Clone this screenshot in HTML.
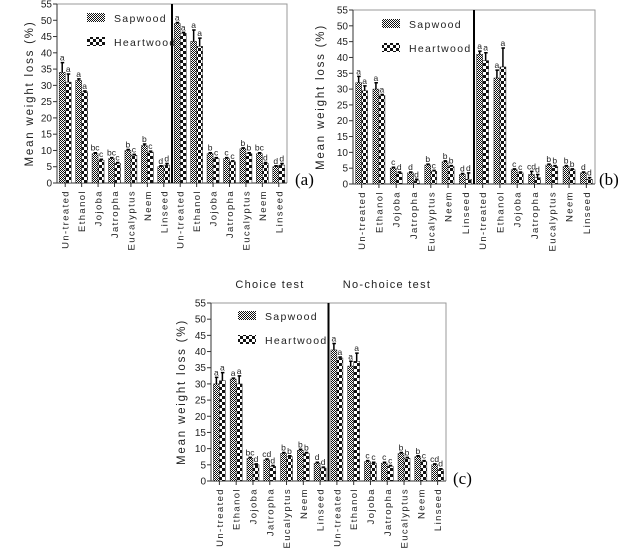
<!DOCTYPE html>
<html><head><meta charset="utf-8"><style>
html,body{margin:0;padding:0;background:#fff}
svg{display:block;font-family:"Liberation Sans",Arial,sans-serif}
</style></head><body>
<svg id="fig" width="624" height="548" viewBox="0 0 624 548" xmlns="http://www.w3.org/2000/svg">
<defs>
<pattern id="pSap" width="2" height="2" patternUnits="userSpaceOnUse"><rect width="2" height="2" fill="#fff"/><rect width="1" height="1" fill="#111"/><rect x="1" y="1" width="1" height="1" fill="#111"/></pattern>
<pattern id="pHeart" width="6" height="6" patternUnits="userSpaceOnUse"><rect width="6" height="6" fill="#fff"/><rect width="3" height="3" fill="#111"/><rect x="3" y="3" width="3" height="3" fill="#111"/></pattern>
</defs>
</svg>
<script>
const categories = ["Un-treated","Ethanol","Jojoba","Jatropha","Eucalyptus","Neem","Linseed","Un-treated","Ethanol","Jojoba","Jatropha","Eucalyptus","Neem","Linseed"];
const yTicks = [0,5,10,15,20,25,30,35,40,45,50,55];
// Panel (a)
const aSap = [34,31.5,9,7.5,10,11.5,5, 49,43.5,9,7.5,10.5,9,5];
const aHeart = [31,28,7,6,8.5,9.5,5.5, 46,42,7.5,6.5,9,6,5.5];
const aSapErr = [37,32,9.3,7.8,10.3,12,5.3, 49.3,47,9.3,7.8,10.8,9.3,5.3];
const aHeartErr = [33.5,28.3,7.3,6.3,8.8,9.8,6, 46.3,44.5,7.8,6.8,9.3,6.3,6];
const aSapLet = ["a","a","bc","bc","b","b","d","a","a","b","c","b","bc","d"];
const aHeartLet = ["a","a","c","c","c","c","d","a","a","c","c","b","d","d"];
// Panel (b)
const bSap = [32,30,5,3.5,6,7,3, 41,33.5,4.5,3,6,5.5,3.5];
const bHeart = [29.5,28,3.5,1,4,5.5,1.5, 39,37,3.5,2,5.5,4.5,1.5];
const bSapErr = [34,32,5.3,3.8,6.3,7.3,3.3, 42,36,4.8,4,6.3,5.8,3.8];
const bHeartErr = [31,28.3,3.8,1.5,4.3,5.8,3.5, 41.5,43,3.8,3,5.8,4.8,2];
const bSapLet = ["a","a","c","d","b","b","d","a","a","c","cd","b","b","d"];
const bHeartLet = ["a","a","d","d","c","b","d","a","a","c","d","b","b","d"];
// Panel (c)
const cSap = [30,31.5,7,6.5,8.5,9.5,5.5, 40.5,35.5,6,5.5,8.5,7.5,5];
const cHeart = [31,30,5,4.5,7.5,8.5,4, 38,37,5.5,4.5,7,6,3.5];
const cSapErr = [32,31.8,7.3,6.8,8.8,9.8,5.8, 42.5,37,6.3,5.8,8.8,7.8,5.3];
const cHeartErr = [33.5,32.5,5.3,4.8,7.8,8.8,4.3, 38.3,39.5,5.8,4.8,7.3,6.3,3.8];
const cSapLet = ["a","a","bc","cd","b","b","d","a","a","c","c","b","b","cd"];
const cHeartLet = ["a","a","d","d","b","b","d","a","a","c","c","b","c","d"];

const NS="http://www.w3.org/2000/svg";
const svg=document.getElementById('fig');
function mk(tag,attrs,parent,text){const e=document.createElementNS(NS,tag);for(const k in attrs)e.setAttribute(k,attrs[k]);if(text!==undefined)e.textContent=text;(parent||svg).appendChild(e);return e;}

function panel(id,cfg,sap,heart,sapErr,heartErr,sapLet,heartLet){
  const g=mk('g',{});
  
  
  const y=v=>cfg.y0-(v/55)*(cfg.y0-cfg.y55);
  const band=(cfg.x1-cfg.x0)/14;
  const cx=i=>cfg.x0+band*(i+0.5);
  const fr=mk('path',{d:`M${cfg.x0} ${cfg.y55}H${cfg.x1}V${cfg.y0}`,fill:'none',stroke:'#999','stroke-width':1},g);
  
  
  const ax=mk('path',{d:`M${cfg.x0} ${cfg.y55}V${cfg.y0}H${cfg.x1}`,fill:'none',stroke:'#333','stroke-width':1},g);
  
  
  const dx=cfg.x0+band*7;
  const dv=mk('line',{x1:dx,x2:dx,y1:cfg.y55,y2:cfg.y0,stroke:'#000','stroke-width':2},g);
  
  
  yTicks.forEach(t=>{
    const tk=mk('line',{x1:cfg.x0-4,x2:cfg.x0,y1:y(t),y2:y(t),stroke:'#333'},g);
    
    
    const tl=mk('text',{x:cfg.x0-5,y:y(t)+3.5,'text-anchor':'end','font-size':10,fill:'#222'},g,String(t));
    
    
  });
  const yl=mk('text',{x:0,y:0,transform:`translate(${cfg.ylx},${(cfg.y0+cfg.y55)/2}) rotate(-90)`,'text-anchor':'middle','font-size':11.5,'letter-spacing':'1.8',fill:'#222'},g,'Mean weight loss (%)');
  
  
  categories.forEach((c,i)=>{
    const x=cx(i);
    const tk=mk('line',{x1:x,x2:x,y1:cfg.y0,y2:cfg.y0+4,stroke:'#333'},g);
    
    
    const tl=mk('text',{x:0,y:0,transform:`translate(${x+3.5},${cfg.y0+7}) rotate(-90)`,'text-anchor':'end','font-size':9.5,'letter-spacing':'1.4',fill:'#222'},g,c);
    
    
    const bw=6;
    [[sap[i],sapErr[i],sapLet[i],'pSap',x-bw,'sapwood'],[heart[i],heartErr[i],heartLet[i],'pHeart',x,'heartwood']].forEach(([v,e,l,p,bx,nm])=>{
      const r=mk('rect',{x:bx,y:y(v),width:bw,height:y(0)-y(v),fill:`url(#${p})`,stroke:'#222','stroke-width':0.5},g);
      
      
      const el=mk('path',{d:`M${bx+bw/2} ${y(v)}V${y(e)}M${bx+bw/2-1.5} ${y(e)}H${bx+bw/2+2}`,stroke:'#000','stroke-width':1.5,fill:'none'},g);
      
      
      const lt=mk('text',{x:bx+bw/2,y:y(e)-2,'text-anchor':'middle','font-size':8.5,fill:'#222'},g,l);
      
      
    });
  });
  const L=cfg.leg;
  [['pSap','Sapwood',0],['pHeart','Heartwood',1]].forEach(([p,t,k])=>{
    const sw=mk('rect',{x:L[0],y:L[1]+k*24,width:18,height:9,fill:`url(#${p})`},g);
    
    
    const lt=mk('text',{x:L[0]+27,y:L[1]+k*24+9,'font-size':10.5,'letter-spacing':'1.3',fill:'#222'},g,t);
    
    
  });
  const pl=mk('text',{x:cfg.lab[0],y:cfg.lab[1],'font-size':17,'font-family':'Liberation Serif, serif',fill:'#000'},g,'('+id+')');
  
  
}
panel('a',{x0:57,x1:287,y0:183,y55:4,ylx:33,leg:[87,13],lab:[295,185]},aSap,aHeart,aSapErr,aHeartErr,aSapLet,aHeartLet);
panel('b',{x0:353,x1:595,y0:184,y55:10,ylx:324,leg:[382,19],lab:[599,185]},bSap,bHeart,bSapErr,bHeartErr,bSapLet,bHeartLet);
panel('c',{x0:211,x1:446,y0:481,y55:303,ylx:185,leg:[238,311],lab:[453,484]},cSap,cHeart,cSapErr,cHeartErr,cSapLet,cHeartLet);
const t1=mk('text',{x:270,y:288,'text-anchor':'middle','font-size':11,'letter-spacing':'1.3',fill:'#222'},svg,'Choice test');


const t2=mk('text',{x:387,y:288,'text-anchor':'middle','font-size':11,'letter-spacing':'1.3',fill:'#222'},svg,'No-choice test');


</script>
</body></html>
